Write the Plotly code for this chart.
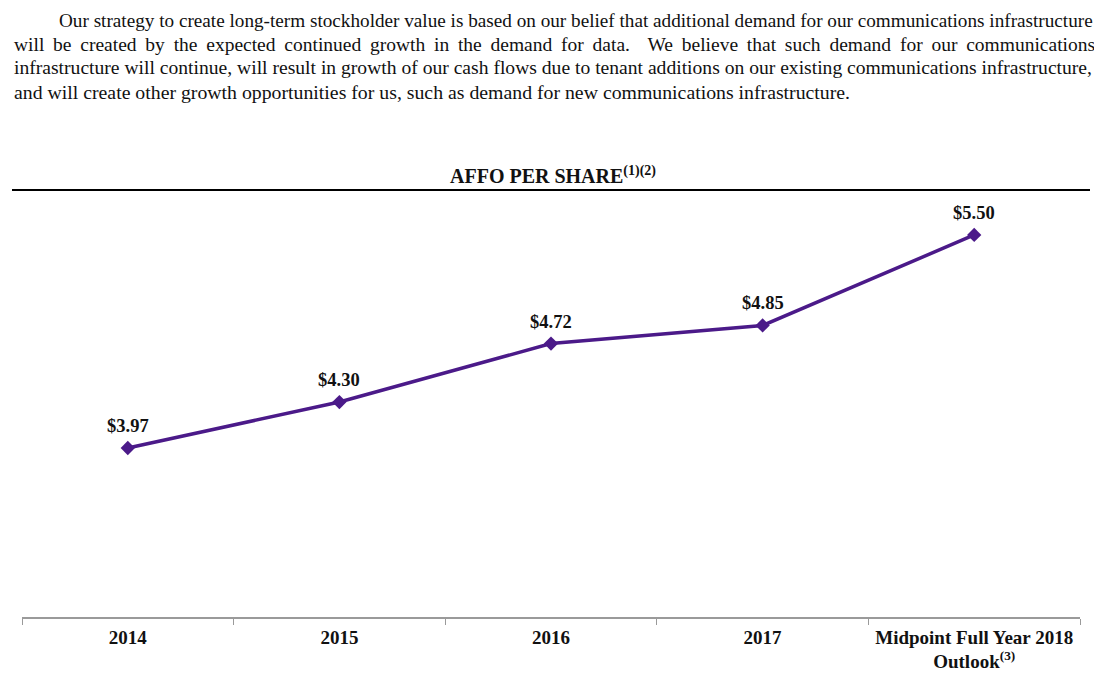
import plotly.graph_objects as go

categories = ["2014", "2015", "2016", "2017", "Midpoint Full Year 2018<br>Outlook<sup>(3)</sup>"]
affo = [3.97, 4.30, 4.72, 4.85, 5.50]
labels = ["$3.97", "$4.30", "$4.72", "$4.85", "$5.50"]

paragraph = [
    "Our strategy to create long-term stockholder value is based on our belief that additional demand for our communications infrastructure",
    "will be created by the expected continued growth in the demand for data.  We believe that such demand for our communications",
    "infrastructure will continue, will result in growth of our cash flows due to tenant additions on our existing communications infrastructure,",
    "and will create other growth opportunities for us, such as demand for new communications infrastructure.",
]

SERIF = "Liberation Serif, Times New Roman, serif"
PURPLE = "#4B1A89"

OFF = 8  # page body margin
W, H = 1094, 666
ML, MR, MT, MB = 14, 22, 182, 57

fig = go.Figure()
fig.add_trace(go.Scatter(
    x=categories, y=affo, mode="lines+markers",
    line=dict(color=PURPLE, width=3.5),
    marker=dict(symbol="diamond", size=11, color=PURPLE),
    cliponaxis=False, hoverinfo="skip", showlegend=False,
))

pw = W - ML - MR
ph = H - MT - MB

def px_x(p):
    return (p - OFF - ML) / pw

def px_y(p):
    return (H - MB - (p - OFF)) / ph

annotations = []
for i, (v, lab) in enumerate(zip(affo, labels)):
    annotations.append(dict(
        text="<b>" + lab + "</b>", x=i, y=v, xref="x", yref="y",
        xanchor="center", yanchor="middle", yshift=22, showarrow=False,
        font=dict(family=SERIF, size=18.5, color="#111111"),
    ))

line_ys = [20, 44, 68, 92]
starts = [57, 12, 12, 12]
sizes = [19.2, 19.5, 19.6, 19.8]
for i, (txt, yy, xs, fs) in enumerate(zip(paragraph, line_ys, starts, sizes)):
    if i == 1:
        txt = " \u2009".join(txt.split(" "))
    annotations.append(dict(
        text=txt, x=px_x(xs), y=px_y(yy), xref="paper", yref="paper",
        xanchor="left", yanchor="middle", showarrow=False,
        font=dict(family=SERIF, size=fs, color="#111111"),
    ))
annotations.append(dict(
    text="<b>AFFO PER SHARE<sup>(1)(2)</sup></b>", x=px_x(553), y=px_y(175),
    xref="paper", yref="paper", xanchor="center", yanchor="middle", showarrow=False,
    font=dict(family=SERIF, size=20, color="#111111"),
))

fig.update_layout(
    width=W, height=H,
    margin=dict(l=ML, r=MR, t=MT, b=MB, autoexpand=False),
    paper_bgcolor="white", plot_bgcolor="white",
    annotations=annotations,
    shapes=[dict(type="line", xref="paper", yref="paper",
                 x0=px_x(12), x1=px_x(1090), y0=px_y(190), y1=px_y(190),
                 line=dict(color="black", width=2))],
    xaxis=dict(
        type="category", range=[-0.5, 4.5], tickson="boundaries",
        ticks="outside", ticklen=6, tickcolor="#9a9a9a",
        showline=True, linecolor="#9a9a9a", linewidth=1.5,
        showgrid=False, zeroline=False, ticklabelstandoff=2,
        tickangle=0, automargin=False,
        tickfont=dict(family=SERIF, size=19, color="#111111", weight="bold"),
    ),
    yaxis=dict(range=[2.756, 5.823], visible=False, showgrid=False, zeroline=False),
)

fig.write_html("out.html")
